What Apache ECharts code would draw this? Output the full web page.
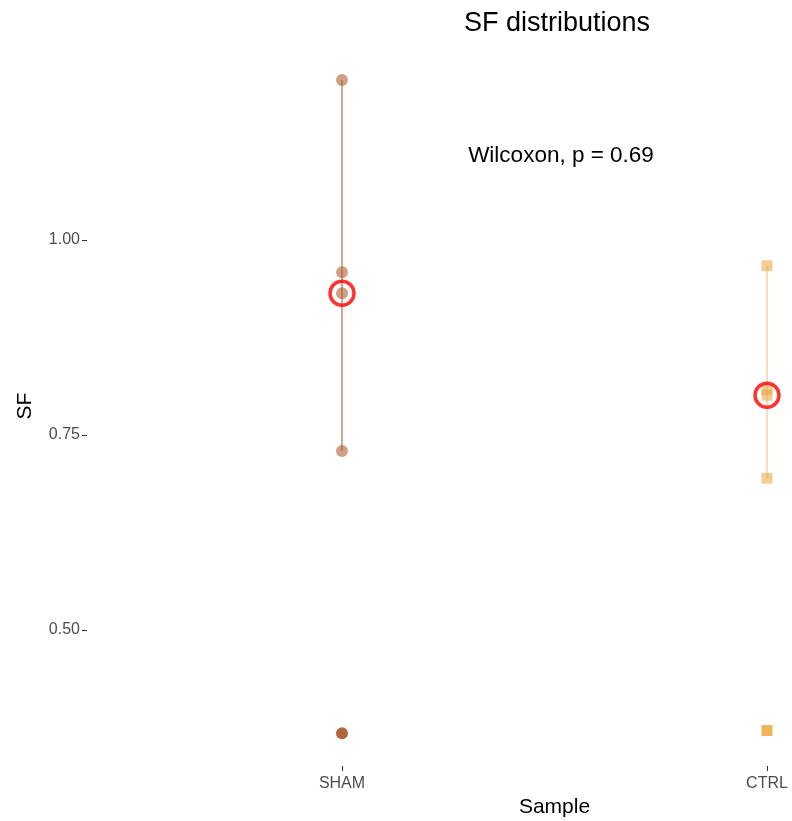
<!DOCTYPE html>
<html>
<head>
<meta charset="utf-8">
<title>SF distributions</title>
<script src="https://cdn.jsdelivr.net/npm/echarts@6/dist/echarts.min.js"></script>
<style>
  html, body { margin: 0; padding: 0; background: #ffffff; }
  #chart { width: 792px; height: 821px; }
</style>
</head>
<body>
<div id="chart"></div>
<script>
// Sample groups shown along the x axis
const categories = ['SHAM', 'CTRL'];

// SF values per sample (points within the whisker range)
const shamValues = [1.205, 0.9585, 0.9317, 0.7295];
const ctrlValues = [0.967, 0.808, 0.801, 0.6945];

// Outlying SF values drawn as solid markers
const shamOutliers = [0.3675];
const ctrlOutliers = [0.371];

// Y axis tick labels
const yTicks = [0.5, 0.75, 1.0];

const FONT = '"Liberation Sans", Arial, Helvetica, sans-serif';

function median(arr) {
  const s = arr.slice().sort((a, b) => a - b);
  const m = Math.floor(s.length / 2);
  return s.length % 2 ? s[m] : (s[m - 1] + s[m]) / 2;
}

function pts(xPos, vals) {
  return vals.map(v => [xPos, v]);
}

const shamX = 1, ctrlX = 2;
const shamMedian = median(shamValues.concat(shamOutliers));
const ctrlMedian = median(ctrlValues.concat(ctrlOutliers));

const shamColor = '#A85220';
const ctrlColor = '#EBA43C';

const chart = echarts.init(document.getElementById('chart'), null, { renderer: 'canvas' });

chart.setOption({
  backgroundColor: '#ffffff',
  animation: false,
  textStyle: { fontFamily: FONT },
  title: {
    text: 'SF distributions',
    left: 459,
    top: 5,
    textStyle: { fontFamily: FONT, fontSize: 27, fontWeight: 'normal', color: '#000000' }
  },
  graphic: [{
    type: 'text',
    x: 561,
    y: 156,
    style: {
      text: 'Wilcoxon, p = 0.69',
      font: '22.5px ' + FONT,
      fill: '#000000',
      textAlign: 'center',
      textVerticalAlign: 'middle'
    }
  }],
  // the panel runs past the right edge; only the part up to x = 2.06 is visible
  grid: { left: 87, top: 46, right: 0, bottom: 55, containLabel: false, outerBoundsMode: 'none' },
  xAxis: {
    type: 'value',
    min: 0.4,
    max: 2.0588,
    axisLine: { show: false },
    splitLine: { show: false },
    axisTick: { show: true, customValues: [shamX, ctrlX], length: 5, lineStyle: { color: '#333333', width: 1 } },
    axisLabel: {
      customValues: [shamX, ctrlX],
      formatter: v => categories[Math.round(v) - 1] || '',
      color: '#4D4D4D',
      fontSize: 16,
      fontFamily: FONT,
      margin: 10
    },
    name: 'Sample',
    nameLocation: 'middle',
    nameGap: 31,
    nameTextStyle: { color: '#000000', fontSize: 21, fontFamily: FONT, padding: [0, 0, 0, 230] }
  },
  yAxis: {
    type: 'value',
    min: 0.3256,
    max: 1.2487,
    axisLine: { show: false },
    splitLine: { show: false },
    axisTick: { show: true, customValues: yTicks, length: 5, lineStyle: { color: '#333333', width: 1 } },
    axisLabel: {
      customValues: yTicks,
      formatter: v => v.toFixed(2),
      color: '#4D4D4D',
      fontSize: 16,
      fontFamily: FONT,
      margin: 7
    },
    name: 'SF',
    nameLocation: 'middle',
    nameGap: 51,
    nameRotate: 90,
    nameTextStyle: { color: '#000000', fontSize: 21, fontFamily: FONT }
  },
  series: [
    {
      name: 'SHAM range',
      type: 'line',
      symbol: 'none',
      data: [[shamX, Math.min(...shamValues)], [shamX, Math.max(...shamValues)]],
      lineStyle: { color: shamColor, width: 1 },
      z: 1
    },
    {
      name: 'CTRL range',
      type: 'line',
      symbol: 'none',
      data: [[ctrlX, Math.min(...ctrlValues)], [ctrlX, Math.max(...ctrlValues)]],
      lineStyle: { color: ctrlColor, width: 1.2, opacity: 0.6 },
      z: 1
    },
    {
      name: 'SHAM',
      type: 'scatter',
      symbol: 'circle',
      symbolSize: 12,
      data: pts(shamX, shamValues),
      itemStyle: { color: shamColor, opacity: 0.55 },
      z: 2
    },
    {
      name: 'CTRL',
      type: 'scatter',
      symbol: 'rect',
      symbolSize: 11,
      data: pts(ctrlX, ctrlValues),
      itemStyle: { color: ctrlColor, opacity: 0.55 },
      z: 2
    },
    {
      name: 'SHAM outliers',
      type: 'scatter',
      symbol: 'circle',
      symbolSize: 12,
      data: pts(shamX, shamOutliers),
      itemStyle: { color: '#9A420E' },
      z: 2
    },
    {
      name: 'CTRL outliers',
      type: 'scatter',
      symbol: 'rect',
      symbolSize: 11,
      data: pts(ctrlX, ctrlOutliers),
      itemStyle: { color: '#E9A22E' },
      z: 2
    },
    {
      name: 'Median',
      type: 'scatter',
      symbol: 'circle',
      symbolSize: 24,
      data: [[shamX, shamMedian], [ctrlX, ctrlMedian]],
      itemStyle: { color: 'rgba(0,0,0,0)', borderColor: '#FF0000', borderWidth: 3.5 },
      z: 3
    }
  ]
});
</script>
</body>
</html>
